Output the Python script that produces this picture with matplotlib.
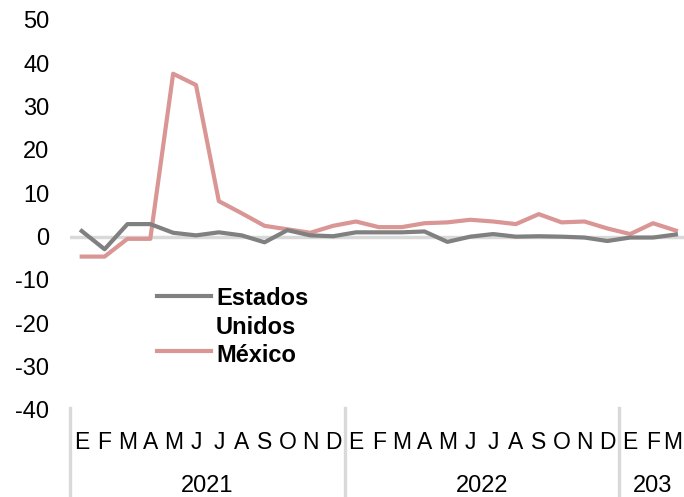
import matplotlib
matplotlib.use("Agg")
import matplotlib.pyplot as plt
from matplotlib.transforms import blended_transform_factory, offset_copy
from matplotlib.lines import Line2D

plt.rcParams['font.family'] = ['Liberation Sans', 'DejaVu Sans']
plt.rcParams['axes.unicode_minus'] = False

months = ["E", "F", "M", "A", "M", "J", "J", "A", "S", "O", "N", "D",
          "E", "F", "M", "A", "M", "J", "J", "A", "S", "O", "N", "D",
          "E", "F", "M"]
years = ["2021", "2022", "203"]
year_sizes = [12, 12, 3]

estados_unidos = [1.3, -2.9, 2.9, 2.9, 0.9, 0.3, 1.0, 0.3, -1.3, 1.5, 0.3, 0.1,
                  1.0, 1.0, 1.0, 1.2, -1.2, 0.0, 0.6, 0.0, 0.1, 0.0, -0.2, -1.0,
                  -0.2, -0.2, 0.5]
mexico = [-4.6, -4.6, -0.5, -0.5, 37.6, 35.0, 8.2, 5.4, 2.5, 1.7, 0.9, 2.5,
          3.5, 2.2, 2.2, 3.1, 3.3, 3.9, 3.5, 2.9, 5.2, 3.3, 3.5, 1.9,
          0.6, 3.1, 1.4]

W, H = 684, 497
fig = plt.figure(figsize=(W / 100, H / 100), dpi=100)
ax = fig.add_axes([70.3 / W, 87 / H, 617 / W, 390 / H])

x = list(range(len(months)))
ax.axhline(0, color="#d9d9d9", lw=2.5, zorder=1)
ax.plot(x, estados_unidos, color="#808080", lw=3, zorder=3)
ax.plot(x, mexico, color="#d99694", lw=3, zorder=2)

ax.set_xlim(-0.5, len(months) - 0.5)
ax.set_ylim(-40, 50)
ax.set_yticks(range(-40, 51, 10))
ax.set_xticks([])
for s in ax.spines.values():
    s.set_visible(False)
ax.tick_params(axis="y", length=0, labelsize=17, pad=15)

tr = blended_transform_factory(ax.transData, fig.transFigure)
n_m = len(months)
for i, m in enumerate(months):
    t = tr
    if i == n_m - 1:
        t = offset_copy(tr, fig=fig, x=-3, y=0, units="dots")
    ax.text(i, 1 - 449 / H, m, transform=t, ha="center", va="baseline",
            fontsize=16.5)

start = 0
for y, n in zip(years, year_sizes):
    ax.text(start + n / 2 - 0.5, 1 - 492 / H, y, transform=tr, ha="center",
            va="baseline", fontsize=17)
    start += n
for b in [0, 12, 24]:
    ax.plot([b - 0.5, b - 0.5], [1 - 408 / H, 0], transform=tr, color="#d9d9d9",
            lw=2.4, clip_on=False)

# legend
lx0, lx1, tx = 157 / W, 211 / W, 216 / W
fig.add_artist(Line2D([lx0, lx1], [1 - 296 / H] * 2,
                      transform=fig.transFigure, color="#808080", lw=3))
fig.add_artist(Line2D([lx0, lx1], [1 - 351 / H] * 2,
                      transform=fig.transFigure, color="#d99694", lw=3))
for label, base in [("Estados", 305), ("Unidos", 334), ("México", 361.5)]:
    fig.text(tx, 1 - base / H, label, fontsize=17, fontweight="bold",
             va="baseline", ha="left")

fig.savefig("out.png", dpi=100)
